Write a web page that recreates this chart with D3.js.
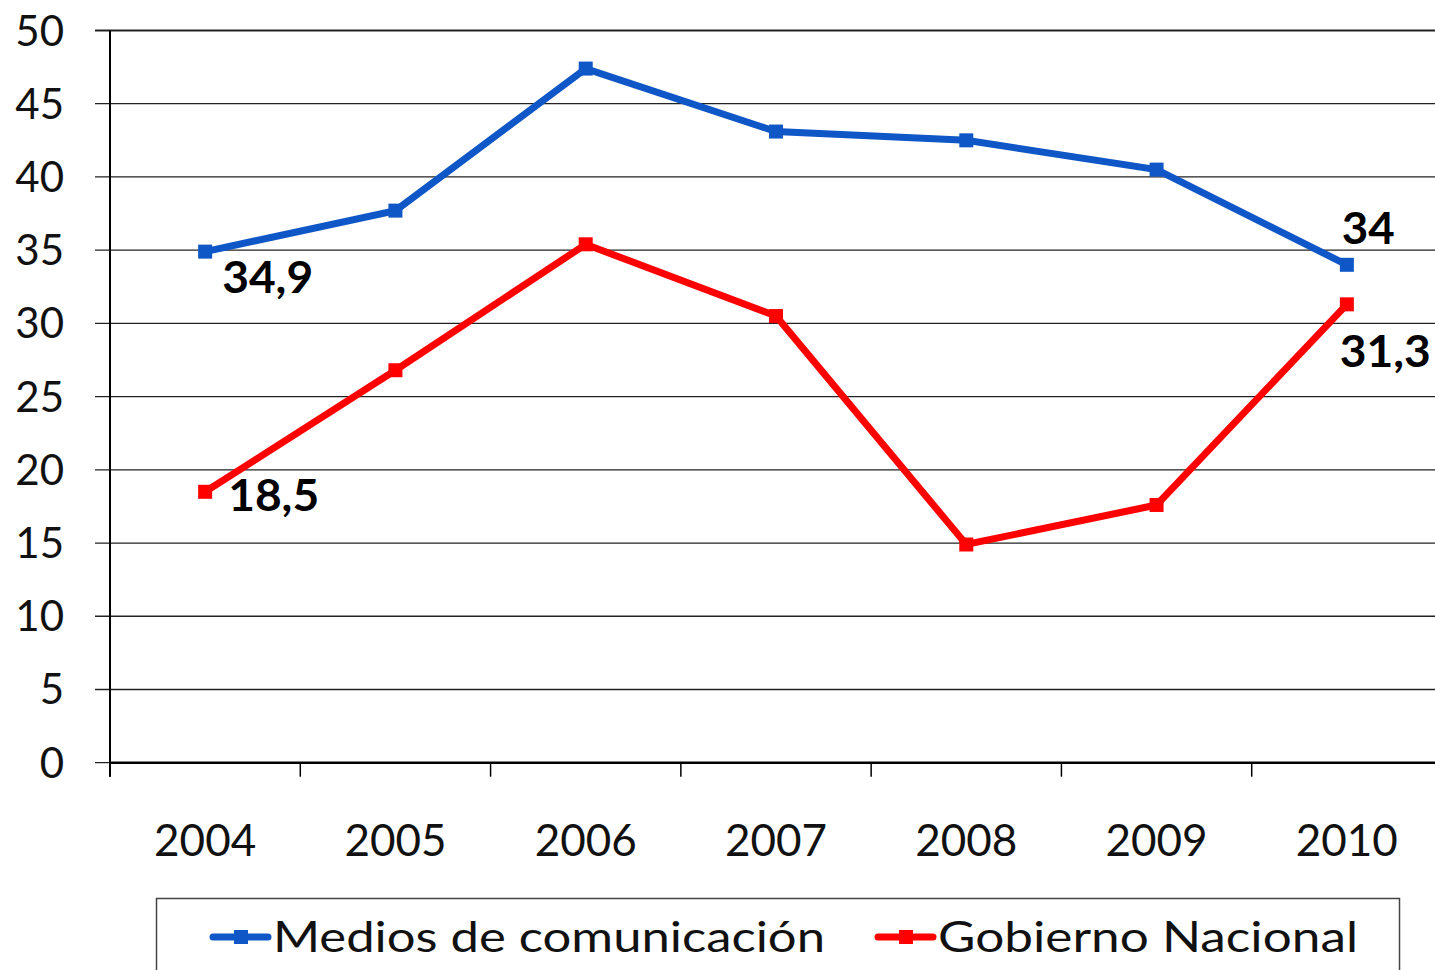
<!DOCTYPE html>
<html>
<head>
<meta charset="utf-8">
<script src="https://cdn.jsdelivr.net/npm/d3@7"></script>
<style>
  html, body { margin: 0; padding: 0; background: #fff; }
  svg text { font-family: Lato, "DejaVu Sans", sans-serif; }
</style>
</head>
<body>
<svg id="chart" width="1435" height="970"></svg>
<script>
  // data
  var years = ['2004', '2005', '2006', '2007', '2008', '2009', '2010'];
  var medios = [34.9, 37.7, 47.4, 43.1, 42.5, 40.5, 34];
  var gobierno = [18.5, 26.8, 35.4, 30.5, 14.9, 17.6, 31.3];
  var yTicks = [0, 5, 10, 15, 20, 25, 30, 35, 40, 45, 50];
  var seriesNames = ['Medios de comunicación', 'Gobierno Nacional'];
  var labelsMedios = {0: '34,9', 6: '34'};
  var labelsGobierno = {0: '18,5', 6: '31,3'};

  var svg = d3.select('#chart');
  var plotLeft = 110, plotTop = 30.5, plotBottom = 762.7, plotRight = 1442;

  var x = d3.scaleBand().domain(years).range([plotLeft, plotRight]).padding(0);
  var y = d3.scaleLinear().domain([0, 50]).range([plotBottom, plotTop]);
  var cx = d => x(d) + x.bandwidth() / 2;

  // horizontal grid
  svg.append('g')
    .selectAll('line')
    .data(yTicks)
    .join('line')
    .attr('x1', 95).attr('x2', plotRight)
    .attr('y1', d => y(d)).attr('y2', d => y(d))
    .attr('stroke', '#222')
    .attr('stroke-width', d => d === 50 ? 2 : 1.3);

  // y labels
  svg.append('g')
    .selectAll('text')
    .data(yTicks)
    .join('text')
    .attr('x', 64)
    .attr('y', d => y(d) + 15)
    .attr('text-anchor', 'end')
    .attr('font-size', 42)
    .attr('fill', '#111')
    .text(d => d);

  // axes
  svg.append('line')
    .attr('x1', plotLeft).attr('x2', plotLeft)
    .attr('y1', plotTop).attr('y2', plotBottom + 14)
    .attr('stroke', '#000').attr('stroke-width', 2);
  svg.append('line')
    .attr('x1', plotLeft).attr('x2', plotRight)
    .attr('y1', plotBottom).attr('y2', plotBottom)
    .attr('stroke', '#000').attr('stroke-width', 2.5);

  // x ticks
  svg.append('g')
    .selectAll('line')
    .data(years)
    .join('line')
    .attr('x1', d => x(d)).attr('x2', d => x(d))
    .attr('y1', plotBottom).attr('y2', plotBottom + 14)
    .attr('stroke', '#000').attr('stroke-width', 1.5);

  svg.append('g')
    .selectAll('text')
    .data(years)
    .join('text')
    .attr('x', d => cx(d))
    .attr('y', 856)
    .attr('text-anchor', 'middle')
    .attr('font-size', 44)
    .attr('fill', '#111')
    .text(d => d);

  function drawSeries(vals, color) {
    var line = d3.line().x((d, i) => cx(years[i])).y(d => y(d));
    svg.append('path')
      .datum(vals)
      .attr('d', line)
      .attr('fill', 'none')
      .attr('stroke', color)
      .attr('stroke-width', 7)
      .attr('stroke-linejoin', 'miter');
    svg.append('g')
      .selectAll('rect')
      .data(vals)
      .join('rect')
      .attr('x', (d, i) => cx(years[i]) - 7)
      .attr('y', d => y(d) - 7)
      .attr('width', 14).attr('height', 14)
      .attr('fill', color);
  }

  drawSeries(medios, '#0f57c6');
  drawSeries(gobierno, '#ff0000');

  // data labels
  function label(i, vals, txt, dx, dy) {
    svg.append('text')
      .attr('x', cx(years[i]) + dx)
      .attr('y', y(vals[i]) + dy)
      .attr('font-size', 44)
      .attr('font-weight', 'bold')
      .attr('fill', '#000')
      .attr('textLength', txt.length === 2 ? 53 : 91)
      .attr('lengthAdjust', 'spacingAndGlyphs')
      .text(txt);
  }
  label(0, medios, labelsMedios[0], 17, 41);
  label(6, medios, labelsMedios[6], -5, -21);
  label(0, gobierno, labelsGobierno[0], 23, 19);
  label(6, gobierno, labelsGobierno[6], -7, 63);

  // legend
  svg.append('rect')
    .attr('x', 156.5).attr('y', 898.5)
    .attr('width', 1243).attr('height', 90)
    .attr('fill', '#fff').attr('stroke', '#444').attr('stroke-width', 1.5);

  var legendItems = [
    {name: seriesNames[0], color: '#0f57c6', x: 213, w: 552},
    {name: seriesNames[1], color: '#ff0000', x: 878, w: 420}
  ];
  var lg = svg.append('g')
    .selectAll('g')
    .data(legendItems)
    .join('g')
    .attr('transform', d => 'translate(' + d.x + ',937)');
  lg.append('line')
    .attr('x1', 0).attr('x2', 55)
    .attr('stroke', d => d.color).attr('stroke-width', 7)
    .attr('stroke-linecap', 'round');
  lg.append('rect')
    .attr('x', 21).attr('y', -7).attr('width', 14).attr('height', 14)
    .attr('fill', d => d.color);
  lg.append('text')
    .attr('x', 60).attr('y', 15)
    .attr('font-size', 42)
    .attr('fill', '#111')
    .attr('textLength', d => d.w)
    .attr('lengthAdjust', 'spacingAndGlyphs')
    .text(d => d.name);
</script>
</body>
</html>
